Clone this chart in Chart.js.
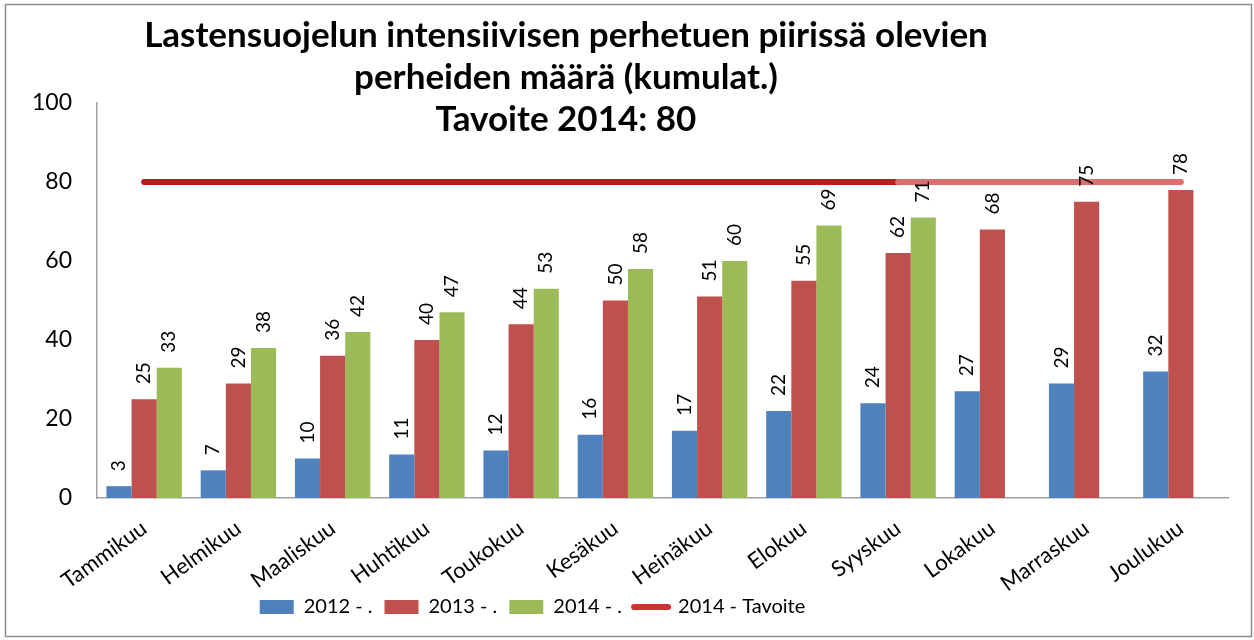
<!DOCTYPE html>
<html>
<head>
<meta charset="utf-8">
<script src="https://cdn.jsdelivr.net/npm/chart.js@4.4.1/dist/chart.umd.min.js"></script>
<style>
  html, body { margin: 0; padding: 0; background: #fff; }
  #wrap { width: 1254px; height: 640px; }
</style>
</head>
<body>
<div id="wrap"><canvas id="myChart" width="1254" height="640"></canvas></div>
<script>
const labels = [
  "Tammikuu", "Helmikuu", "Maaliskuu", "Huhtikuu", "Toukokuu", "Kesäkuu",
  "Heinäkuu", "Elokuu", "Syyskuu", "Lokakuu", "Marraskuu", "Joulukuu",
];
const values2012 = [3, 7, 10, 11, 12, 16, 17, 22, 24, 27, 29, 32];
const values2013 = [25, 29, 36, 40, 44, 50, 51, 55, 62, 68, 75, 78];
const values2014 = [33, 38, 42, 47, 53, 58, 60, 69, 71, null, null, null];
const target2014 = [80, 80, 80, 80, 80, 80, 80, 80, 80, 80, 80, 80];
const titleLines = [
  "Lastensuojelun intensiivisen perhetuen piirissä olevien",
  "perheiden määrä (kumulat.)",
  "Tavoite 2014: 80",
];

const FONT = "Lato, 'Open Sans', sans-serif";

// frame + title drawn over the plot like in the original
const framePlugin = {
  id: "frame",
  afterLayout(chart) {
    // legend sits left of centre in the original, just under the month names
    const lg = chart.legend;
    const h = lg.bottom - lg.top;
    lg.right -= 170;
    lg.top = 585;
    lg.bottom = 585 + h;
  },
  beforeDraw(chart) {
    const ctx = chart.ctx;
    ctx.save();
    ctx.fillStyle = "#fff";
    ctx.fillRect(0, 0, chart.width, chart.height);
    ctx.strokeStyle = "#8c8c8c";
    ctx.lineWidth = 1.5;
    ctx.strokeRect(5.5, 4.5, 1246, 632);
    ctx.restore();
  },
  afterDraw(chart) {
    const ctx = chart.ctx;
    ctx.save();
    ctx.fillStyle = "#000";
    ctx.font = "bold 35px " + FONT;
    ctx.textAlign = "center";
    ctx.textBaseline = "middle";
    titleLines.forEach((t, i) => ctx.fillText(t, 566, 36 + i * 42));
    ctx.restore();
  },
};

// vertical value labels above the bars
const barLabels = {
  id: "barLabels",
  afterDatasetsDraw(chart) {
    const ctx = chart.ctx;
    ctx.save();
    ctx.fillStyle = "#000";
    ctx.font = "19px " + FONT;
    ctx.textAlign = "left";
    ctx.textBaseline = "middle";
    [0, 1, 2].forEach((di) => {
      const meta = chart.getDatasetMeta(di);
      meta.data.forEach((bar, i) => {
        const v = chart.data.datasets[di].data[i];
        if (v === null) return;
        ctx.save();
        ctx.translate(bar.x, bar.y - 15);
        ctx.rotate(-Math.PI / 2);
        ctx.fillText(String(v), 0, 0);
        ctx.restore();
      });
    });
    ctx.restore();
  },
};

const data = {
  labels: labels,
  datasets: [
    { type: "bar", label: "2012 - .", data: values2012, backgroundColor: "#4F81BD", order: 2 },
    { type: "bar", label: "2013 - .", data: values2013, backgroundColor: "#C0504D", order: 2 },
    { type: "bar", label: "2014 - .", data: values2014, backgroundColor: "#9BBB59", order: 2 },
    {
      type: "line",
      label: "2014 - Tavoite",
      data: target2014,
      borderColor: "#C8161D",
      borderWidth: 6,
      borderCapStyle: "round",
      pointRadius: 0,
      order: 1,
      segment: {
        borderColor: (c) => (c.p0DataIndex >= 8 ? "#DC6E6F" : "#C8161D"),
      },
    },
  ],
};

const config = {
  type: "bar",
  data: data,
  options: {
    responsive: false,
    animation: false,
    datasets: { bar: { categoryPercentage: 0.8, barPercentage: 1.0 } },
    layout: { padding: { top: 103, left: 7, right: 26, bottom: 0 } },
    scales: {
      x: {
        grid: { display: false, drawTicks: false },
        border: { color: "#a0a0a0", width: 1.5 },
        ticks: {
          color: "#000",
          font: { family: FONT, size: 22 },
          minRotation: 36,
          maxRotation: 36,
          padding: 17,
        },
        afterFit(scale) {
          scale.height = 100;
        },
      },
      y: {
        min: 0,
        max: 100,
        grid: { display: false, drawTicks: false },
        border: { color: "#a0a0a0", width: 1.5 },
        ticks: {
          stepSize: 20,
          color: "#000",
          font: { family: FONT, size: 23 },
          padding: 25,
        },
      },
    },
    plugins: {
      title: { display: false },
      tooltip: { enabled: false },
      legend: {
        position: "bottom",
        labels: {
          color: "#000",
          font: { family: FONT, size: 20 },
          usePointStyle: true,
          pointStyleWidth: 34,
          boxHeight: 14,
          padding: 12,
          generateLabels(chart) {
            const items = Chart.defaults.plugins.legend.labels.generateLabels(chart);
            items.sort((a, b) => a.datasetIndex - b.datasetIndex);
            return items.map((it) => {
              if (it.datasetIndex === 3) {
                it.pointStyle = "line";
                it.strokeStyle = "#D03030";
                it.lineWidth = 6;
                it.lineCap = "round";
              } else {
                it.pointStyle = "rect";
                it.lineWidth = 0;
              }
              return it;
            });
          },
        },
      },
    },
  },
  plugins: [framePlugin, barLabels],
};

var myChart = new Chart(document.getElementById("myChart"), config);
</script>
</body>
</html>
